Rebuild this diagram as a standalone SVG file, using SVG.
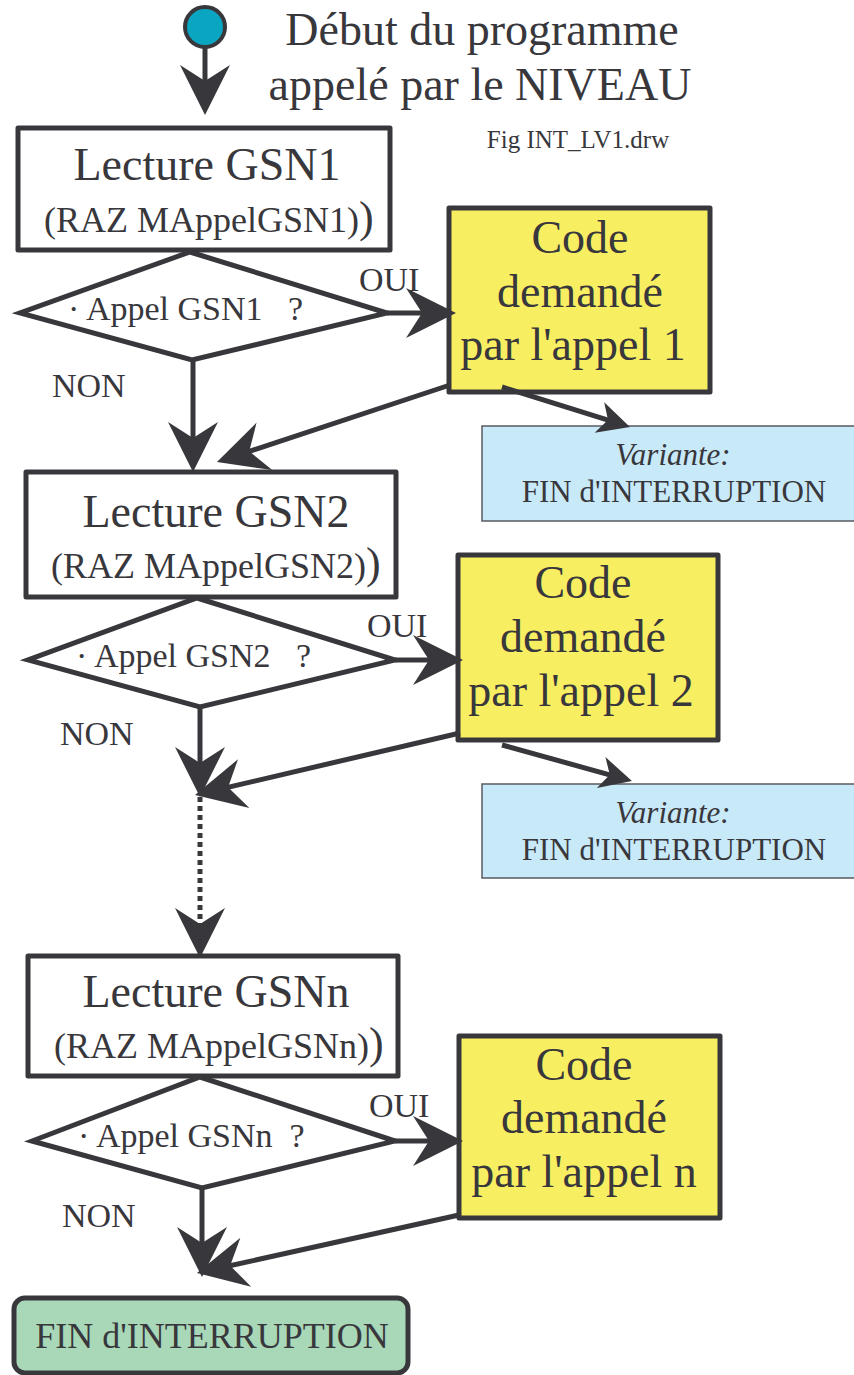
<svg xmlns="http://www.w3.org/2000/svg" width="854" height="1375" viewBox="0 0 854 1375">
<style>
text{font-family:"Liberation Serif","Times New Roman",serif;fill:#38373c;white-space:pre}
.box{fill:#ffffff;stroke:#38373c;stroke-width:5;stroke-linejoin:round}
.dia{fill:#ffffff;stroke:#38373c;stroke-width:5;stroke-linejoin:miter}
.code{fill:#f8ee62;stroke:#38373c;stroke-width:5;stroke-linejoin:round}
.var{fill:#c8e9f8;stroke:#5a5a60;stroke-width:1.5}
.fin{fill:#a8d8b8;stroke:#38373c;stroke-width:5}
.t46{font-size:46px;text-anchor:middle}
.t34{font-size:34px}
.lbl{font-size:34px}
.t30{font-size:31px;text-anchor:middle}
.lnb{fill:none;stroke:#38373c;stroke-width:5;marker-end:url(#ah)}
.lns{fill:none;stroke:#38373c;stroke-width:5;marker-end:url(#as)}
</style>
<defs>
<marker id="ah" markerUnits="userSpaceOnUse" markerWidth="60" markerHeight="60" viewBox="-55 -30 60 60" refX="-15" refY="0" orient="auto">
<path d="M0,0 L-50,-25 L-34,0 L-50,25 Z" fill="#38373c"/>
</marker>
<marker id="as" markerUnits="userSpaceOnUse" markerWidth="40" markerHeight="40" viewBox="-36 -20 40 40" refX="-12" refY="0" orient="auto">
<path d="M0,0 L-32,-16 L-23,0 L-32,16 Z" fill="#38373c"/>
</marker>
</defs>

<g id="start">
<circle cx="205" cy="27" r="20" fill="#0aa5c0" stroke="#38373c" stroke-width="4"/>
</g>
<g id="title">
<text class="t46" x="482" y="45">Début du programme</text>
<text class="t46" x="480" y="100">appelé par le NIVEAU</text>
<text x="578" y="148" style="font-size:25px;text-anchor:middle">Fig INT_LV1.drw</text>
</g>

<g id="lecture1">
<rect class="box" x="18" y="128" width="372" height="122"/>
<text class="t46" x="207" y="180">Lecture GSN1</text>
<text x="44" y="232" style="font-size:36px">(RAZ MAppelGSN1)<tspan style="font-size:44px">)</tspan></text>
</g>
<g id="test1">
<polygon class="dia" points="190,252 387,313 192,360 20,313"/>
<text class="t34" x="68" y="320">· Appel GSN1   ?</text>
</g>
<g id="code1">
<rect class="code" x="449" y="208" width="261" height="184"/>
<text class="t46" x="580" y="253">Code</text>
<text class="t46" x="580" y="307">demandé</text>
<text class="t46" x="573" y="360">par l'appel 1</text>
</g>
<g id="variante1">
<rect class="var" x="482" y="426" width="375" height="95"/>
<text class="t30" x="673" y="465" style="font-style:italic">Variante:</text>
<text class="t30" x="674" y="502">FIN d'INTERRUPTION</text>
</g>

<g id="lecture2">
<rect class="box" x="26" y="472" width="370" height="125"/>
<text class="t46" x="216" y="527">Lecture GSN2</text>
<text x="51" y="578" style="font-size:36px">(RAZ MAppelGSN2)<tspan style="font-size:44px">)</tspan></text>
</g>
<g id="test2">
<polygon class="dia" points="197,598 395,660 200,707 28,660"/>
<text class="t34" x="76" y="667">· Appel GSN2   ?</text>
</g>
<g id="code2">
<rect class="code" x="458" y="555" width="260" height="185"/>
<text class="t46" x="583" y="598">Code</text>
<text class="t46" x="583" y="652">demandé</text>
<text class="t46" x="581" y="706">par l'appel 2</text>
</g>
<g id="variante2">
<rect class="var" x="482" y="784" width="375" height="94"/>
<text class="t30" x="673" y="823" style="font-style:italic">Variante:</text>
<text class="t30" x="674" y="860">FIN d'INTERRUPTION</text>
</g>

<g id="lectureN">
<rect class="box" x="28" y="956" width="370" height="120"/>
<text class="t46" x="216" y="1007">Lecture GSNn</text>
<text x="54" y="1058" style="font-size:36px">(RAZ MAppelGSNn)<tspan style="font-size:44px">)</tspan></text>
</g>
<g id="testN">
<polygon class="dia" points="200,1077 395,1141 202,1188 32,1141"/>
<text class="t34" x="78" y="1147">· Appel GSNn  ?</text>
</g>
<g id="codeN">
<rect class="code" x="459" y="1036" width="261" height="182"/>
<text class="t46" x="584" y="1080">Code</text>
<text class="t46" x="584" y="1133">demandé</text>
<text class="t46" x="584" y="1187">par l'appel n</text>
</g>

<g id="fin">
<rect class="fin" x="14" y="1298" width="394" height="75" rx="11"/>
<text x="212" y="1348" style="font-size:36px;text-anchor:middle">FIN d'INTERRUPTION</text>
</g>

<g id="labels">
<text class="lbl" x="359" y="291">OUI</text>
<text class="t34" x="52" y="397">NON</text>
<text class="lbl" x="367" y="637">OUI</text>
<text class="t34" x="60" y="745">NON</text>
<text class="lbl" x="369" y="1117">OUI</text>
<text class="t34" x="62" y="1227">NON</text>
</g>

<g id="connectors">
<path class="lnb" d="M205,47 L205,100"/>
<path class="lnb" d="M387,313 L441,313"/>
<path class="lns" d="M502,387 L618.5,423.4"/>
<path class="lnb" d="M193,360 L193,457"/>
<path class="lnb" d="M450,385 L231.2,457.3"/>
<path class="lnb" d="M395,660 L448,660"/>
<path class="lns" d="M502,745 L620.4,777.8"/>
<path class="lnb" d="M200,707 L200,782"/>
<path class="lnb" d="M460,733 L209.6,791.6"/>
<path class="lnb" d="M200,797 L200,943" style="stroke-dasharray:5 4"/>
<path class="lnb" d="M395,1141 L448,1141"/>
<path class="lnb" d="M202,1188 L202,1262"/>
<path class="lnb" d="M459,1215 L211.6,1269.8"/>
</g>
</svg>
